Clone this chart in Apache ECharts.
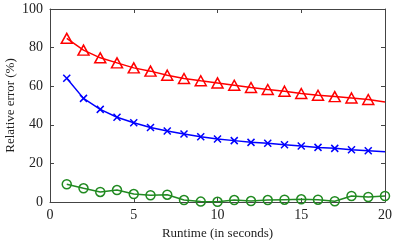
<!DOCTYPE html>
<html><head><meta charset="utf-8">
<script src="https://cdn.jsdelivr.net/npm/echarts@6/dist/echarts.min.js"></script>
<style>html,body{margin:0;padding:0;background:#fff}#c{width:394px;height:242px}</style>
</head><body><div id="c"></div>
<script>
const runtime = [1,2,3,4,5,6,7,8,9,10,11,12,13,14,15,16,17,18,19,20];
const redErr = [84.8,78.7,74.7,72.1,69.5,67.8,65.7,64.0,62.8,61.7,60.5,59.3,58.3,57.4,56.2,55.3,54.6,53.9,53.1,51.8];
const blueErr = [64.1,53.7,48.0,43.9,41.1,38.6,36.8,35.2,33.8,32.6,31.8,30.9,30.4,29.7,29.0,28.3,27.8,27.1,26.6,26.1];
const greenErr = [9.2,7.1,5.2,6.2,4.1,3.5,3.8,1.0,0.2,0.1,1.0,0.5,1.0,1.2,1.4,1.2,0.4,3.1,2.6,3.1];
const redMarked = 19, blueMarked = 19, greenMarked = 20;
const xTicks = [0,5,10,15,20];
const yTicks = [0,20,40,60,80,100];

function pts(vals, nMarked){
  return vals.map((v,i)=> i < nMarked ? [runtime[i], v] : {value:[runtime[i], v], symbol:'none'});
}
const font = '"Liberation Serif","DejaVu Serif",serif';
const axisCol = '#444';
const chart = echarts.init(document.getElementById('c'), null, {renderer:'canvas'});
const baseX = {type:'value', min:0, max:20, interval:5,
  axisLine:{show:true, onZero:false, lineStyle:{color:axisCol, width:1}},
  axisTick:{show:true, inside:true, length:4, lineStyle:{color:axisCol}},
  splitLine:{show:false}};
const baseY = {type:'value', min:0, max:100, interval:20,
  axisLine:{show:true, onZero:false, lineStyle:{color:axisCol, width:1}},
  axisTick:{show:true, inside:true, length:4, lineStyle:{color:axisCol}},
  splitLine:{show:false}};
chart.setOption({
  animation:false,
  grid:{left:50, right:9, top:9, bottom:40, containLabel:false, outerBoundsMode:'none'},
  xAxis:[
    Object.assign({}, baseX, {position:'bottom', name:'Runtime (in seconds)', nameLocation:'middle', nameGap:25,
      nameTextStyle:{fontFamily:font, fontSize:13, color:'#222'},
      axisLabel:{fontFamily:font, fontSize:14, color:'#222', margin:6, formatter:v=>xTicks.includes(v)?String(v):''}}),
    Object.assign({}, baseX, {position:'top', axisLabel:{show:false}})
  ],
  yAxis:[
    Object.assign({}, baseY, {position:'left', name:'Relative error (%)', nameLocation:'middle', nameGap:33, nameMoveOverlap:false,
      nameTextStyle:{fontFamily:font, fontSize:13, color:'#222'},
      axisLabel:{fontFamily:font, fontSize:14, color:'#222', margin:7, formatter:v=>yTicks.includes(v)?String(v):''}}),
    Object.assign({}, baseY, {position:'right', axisLabel:{show:false}})
  ],
  series:[
    {type:'line', data:pts(redErr, redMarked), symbol:'triangle', symbolSize:[11,10], showAllSymbol:true,
      lineStyle:{color:'#ff0000', width:1.5}, itemStyle:{color:'rgba(255,255,255,0)', borderColor:'#ff0000', borderWidth:1.5}, z:3},
    {type:'line', data:pts(blueErr, blueMarked), symbol:'path://M0,0L10,10M10,0L0,10', symbolSize:7, showAllSymbol:true,
      lineStyle:{color:'#0000ff', width:1.5}, itemStyle:{color:'rgba(0,0,0,0)', borderColor:'#0000ff', borderWidth:1.5}, z:3},
    {type:'line', data:pts(greenErr, greenMarked), symbol:'circle', symbolSize:9, showAllSymbol:true,
      lineStyle:{color:'#218a21', width:1.5}, itemStyle:{color:'rgba(255,255,255,0)', borderColor:'#218a21', borderWidth:1.5}, z:3}
  ]
});
</script></body></html>
